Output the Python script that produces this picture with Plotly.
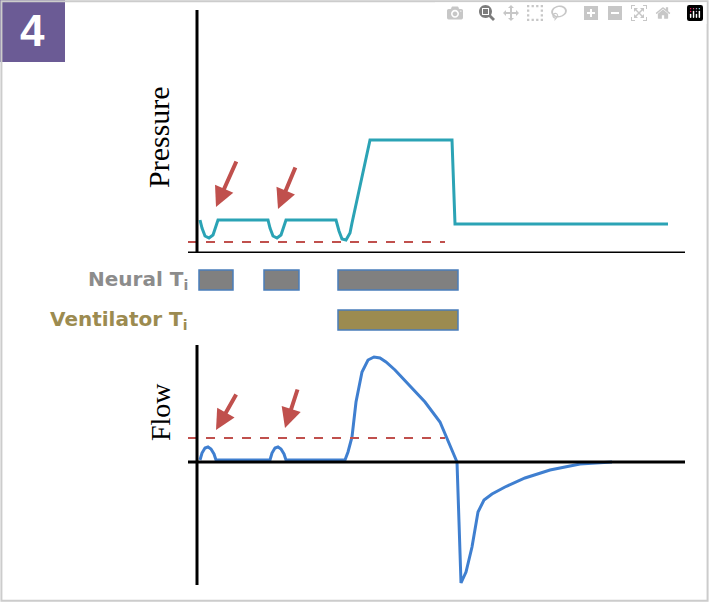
import plotly.graph_objects as go

# time axis (arbitrary units), pressure and flow values
p_t = [200, 202, 205, 209, 213, 216, 218, 268, 270, 273, 277, 281, 284, 286, 336, 339, 342, 346, 350, 352, 370, 452, 455, 668]
p_v = [3.3, 2.5, 1.7, 1.5, 1.8, 2.6, 3.3, 3.3, 2.5, 1.7, 1.5, 1.8, 2.6, 3.3, 3.3, 2.2, 1.4, 1.3, 2.0, 3.0, 11.3, 11.3, 2.9, 2.9]

f_t = [200, 202, 205, 208, 211, 214, 216, 270, 272, 275, 278, 281, 284, 286, 345, 348, 352, 356, 362, 368, 374, 380, 386, 395, 410, 425, 440, 448, 457, 459, 461, 466, 472, 478, 484, 492, 505, 525, 550, 580, 612]
f_v = [0.2, 0.9, 1.4, 1.5, 1.3, 0.8, 0.2, 0.2, 0.9, 1.4, 1.5, 1.3, 0.8, 0.2, 0.2, 1.0, 2.5, 6.0, 9.0, 10.2, 10.5, 10.4, 10.0, 9.2, 7.6, 6.0, 4.0, 2.2, 0.0, -6.0, -12.1, -11.0, -8.5, -5.0, -3.8, -3.2, -2.5, -1.6, -0.8, -0.2, 0.0]

neural_start = [199, 264, 338]
neural_end = [233, 299, 458]
vent_start = [338]
vent_end = [458]

p_thresh = 1.1
f_thresh = 2.4

RED = "#c0504d"

fig = go.Figure()
fig.add_trace(go.Scatter(x=p_t, y=p_v, mode="lines", line=dict(color="#2ba3b5", width=3), yaxis="y"))
fig.add_trace(go.Scatter(x=[188, 445], y=[p_thresh, p_thresh], mode="lines", line=dict(color=RED, width=2, dash="dash"), yaxis="y"))
fig.add_trace(go.Scatter(x=f_t, y=f_v, mode="lines", line=dict(color="#3f7fd0", width=3), yaxis="y2"))
fig.add_trace(go.Scatter(x=[188, 445], y=[f_thresh, f_thresh], mode="lines", line=dict(color=RED, width=2, dash="dash"), yaxis="y2"))

fig.add_trace(go.Bar(y=[1] * 3, x=[e - s for s, e in zip(neural_start, neural_end)], base=neural_start,
                     orientation="h", width=0.5, marker=dict(color="#808080", line=dict(color="#4a7ebb", width=1.5)), yaxis="y3"))
fig.add_trace(go.Bar(y=[0], x=[e - s for s, e in zip(vent_start, vent_end)], base=vent_start,
                     orientation="h", width=0.5, marker=dict(color="#9c8b50", line=dict(color="#4a7ebb", width=1.5)), yaxis="y3"))

# axes lines
shapes = [
    dict(type="line", xref="x", yref="y", x0=197, x1=197, y0=0, y1=24.3, line=dict(color="black", width=3)),
    dict(type="line", xref="x", yref="y", x0=188, x1=685, y0=0, y1=0, line=dict(color="black", width=3)),
    dict(type="line", xref="x", yref="y2", x0=197, x1=197, y0=-12.8, y1=11.7, line=dict(color="black", width=3)),
    dict(type="line", xref="x", yref="y2", x0=188, x1=685, y0=0, y1=0, line=dict(color="black", width=3)),
    dict(type="rect", xref="paper", yref="paper", x0=0, x1=65 / 709, y0=1 - 62 / 602, y1=1,
         fillcolor="#6b5b95", line=dict(width=0), layer="below"),
    dict(type="rect", xref="paper", yref="paper", x0=0.002, x1=0.998, y0=0.002, y1=0.998,
         line=dict(color="#cccccc", width=2)),
]

ann = [
    dict(xref="paper", yref="paper", x=32 / 709, y=1 - 31 / 602, text="<b>4</b>", showarrow=False,
         xanchor="center", yanchor="middle",
         font=dict(family="Liberation Sans Narrow, Arial", size=44, color="white")),
    dict(xref="paper", yref="paper", x=158 / 709, y=1 - 137 / 602, text="Pressure", textangle=-90, showarrow=False,
         xanchor="center", yanchor="middle", font=dict(family="Liberation Serif", size=30, color="black")),
    dict(xref="paper", yref="paper", x=160 / 709, y=1 - 412 / 602, text="Flow", textangle=-90, showarrow=False,
         xanchor="center", yanchor="middle", font=dict(family="Liberation Serif", size=28, color="black")),
    dict(xref="x", yref="y3", x=190, y=1, text="<b>Neural T<sub>i</sub></b>", xanchor="right", showarrow=False,
         font=dict(family="DejaVu Sans", size=20, color="#8c8c8c")),
    dict(xref="x", yref="y3", x=190, y=0, text="<b>Ventilator T<sub>i</sub></b>", xanchor="right", showarrow=False,
         font=dict(family="DejaVu Sans", size=20, color="#9c8b50")),
]
for (ax, ay, x, y, yr) in [(237, 9.3, 216, 4.6, "y"), (296, 8.7, 278, 4.4, "y"),
                           (237, 6.9, 216, 3.2, "y2"), (298, 7.4, 285, 3.4, "y2")]:
    ann.append(dict(xref="x", yref=yr, axref="x", ayref=yr, x=x, y=y, ax=ax, ay=ay, text="",
                    showarrow=True, arrowhead=2, arrowsize=1, arrowwidth=4, arrowcolor=RED))

fig.update_layout(
    width=709, height=602, margin=dict(l=0, r=0, t=0, b=0),
    paper_bgcolor="white", plot_bgcolor="rgba(0,0,0,0)", showlegend=False, barmode="overlay",
    xaxis=dict(range=[0, 709], domain=[0, 1], visible=False),
    yaxis=dict(range=[0, 24.3], domain=[1 - 253 / 602, 1 - 10 / 602], visible=False),
    yaxis2=dict(range=[-12.3, 11.7], domain=[1 - 585 / 602, 1 - 345 / 602], visible=False),
    yaxis3=dict(range=[-0.5, 1.5], domain=[1 - 340 / 602, 1 - 260 / 602], visible=False),
    shapes=shapes, annotations=ann,
)
fig.write_html("out.html", post_script="document.body.style.margin='0';")
